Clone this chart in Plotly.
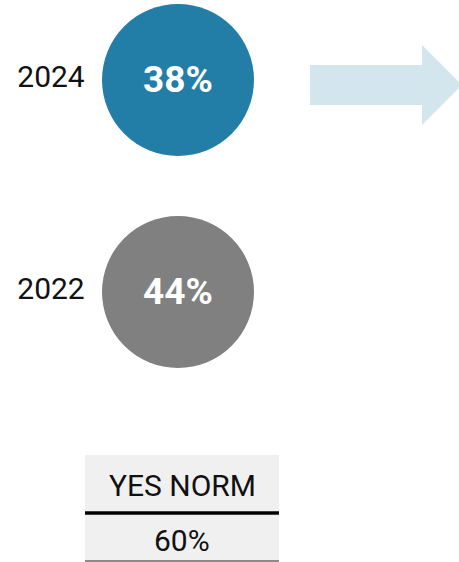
import plotly.graph_objects as go

# Survey share by year, plus the reference norm
years = ["2024", "2022"]
shares = [38, 44]
bubble_colors = ["#237EA7", "#808080"]
norm_label = "YES NORM"
norm_value = 60

W, H = 459, 562
FONT = "Roboto"

fig = go.Figure()

# Canvas laid out in pixel units
cx = 178
row_y = [80, 292]
radius = 76

# Bubbles
fig.add_trace(go.Scatter(
    x=[cx] * len(years), y=row_y,
    mode="markers",
    marker=dict(size=2 * radius, color=bubble_colors, line=dict(width=0)),
    hoverinfo="skip", showlegend=False,
))

# Share labels inside the bubbles
fig.add_trace(go.Scatter(
    x=[cx] * len(years), y=[y + 3 for y in row_y],
    mode="text",
    text=[f"<b>{v}%</b>" for v in shares],
    textposition="middle center",
    textfont=dict(family=FONT, size=37, color="white"),
    hoverinfo="skip", showlegend=False,
))

# Year labels to the left of each bubble
fig.add_trace(go.Scatter(
    x=[51] * len(years), y=[y - 1 for y in row_y],
    mode="text", text=years,
    textposition="middle center",
    textfont=dict(family=FONT, size=30, color="#111111"),
    hoverinfo="skip", showlegend=False,
))

# Light arrow pointing right
fig.add_shape(type="path",
              path="M 310 65 L 422 65 L 422 45 L 462 85 L 422 125 L 422 105 L 310 105 Z",
              fillcolor="#D3E5ED", line=dict(width=0), layer="below")

# Norm table
tx0, tx1 = 85, 279
fig.add_shape(type="rect", x0=tx0, x1=tx1, y0=455, y1=511,
              fillcolor="#F0F0F0", line=dict(width=0), layer="below")
fig.add_shape(type="rect", x0=tx0, x1=tx1, y0=515, y1=561,
              fillcolor="#F0F0F0", line=dict(width=0), layer="below")
fig.add_shape(type="line", x0=tx0, x1=tx1, y0=513, y1=513,
              line=dict(color="black", width=3.5))
fig.add_shape(type="line", x0=tx0, x1=tx1, y0=561, y1=561,
              line=dict(color="#222222", width=1))

fig.add_annotation(x=(tx0 + tx1) / 2, y=485, text=norm_label, showarrow=False,
                   font=dict(family=FONT, size=30, color="#111111"))
fig.add_annotation(x=(tx0 + tx1) / 2, y=540, text=f"{norm_value}%", showarrow=False,
                   font=dict(family=FONT, size=30, color="#111111"))

fig.update_layout(
    width=W, height=H,
    margin=dict(l=0, r=0, t=0, b=0),
    paper_bgcolor="white", plot_bgcolor="white",
    xaxis=dict(range=[0, W], visible=False, fixedrange=True),
    yaxis=dict(range=[H, 0], visible=False, fixedrange=True),
)

fig.write_html("out.html", include_plotlyjs=True, config={"displayModeBar": False})
